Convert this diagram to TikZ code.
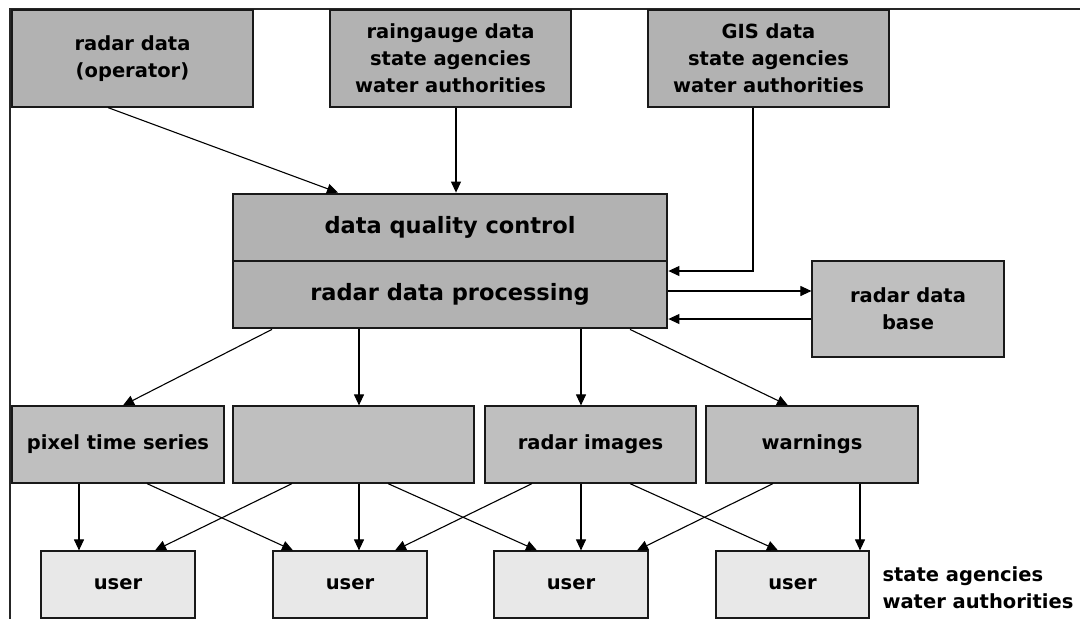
\documentclass[tikz,border=0pt]{standalone}
\usepackage{fontspec}
\setmainfont{DejaVu Sans}
\usetikzlibrary{arrows.meta}
\begin{document}
\begin{tikzpicture}[x=1pt,y=-1pt,
  lab/.style={font=\bfseries\fontsize{19.5}{27}\selectfont, align=center},
  box/.style={lab, draw=black!90, line width=1.2pt, inner sep=0pt, rectangle},
  topbox/.style={box, fill=black!30, minimum width=241pt, minimum height=97pt},
  mainbox/.style={box, fill=black!30, line width=2.8pt, minimum width=434pt, minimum height=67pt, font=\bfseries\fontsize{22.5}{27}\selectfont},
  midbox/.style={box, fill=black!25, minimum height=77pt},
  userbox/.style={box, fill=black!9, minimum width=154pt, minimum height=67pt},
  arr/.style={line width=1.1pt, -{Triangle[length=11pt,width=10pt]}},
  frame/.style={line width=1.3pt, draw=black!85}
]
\useasboundingbox (0,0) rectangle (1080,619);
\draw[frame] (10,619) coordinate (fl) -- (10,9) coordinate (ftl) -- (1080,9) coordinate (ftr);

% top row
\node[topbox] (rd) at (132.5,58.5) {radar data\\(operator)};
\node[topbox] (rg) at (450.5,58.5) {raingauge data\\state agencies\\water authorities};
\node[topbox] (gis) at (768.5,58.5) {GIS data\\state agencies\\water authorities};

% main box
\node[mainbox] (dqc) at (450,227.5) {data quality control};
\node[mainbox] (rdp) at (450,294.5) {radar data processing};

% data base
\node[box, fill=black!25, minimum width=192pt, minimum height=96pt] (db) at (908,309) {radar data\\base};

% middle row
\node[midbox, minimum width=212pt] (pix) at (118,444.5) {pixel time series};
\node[midbox, minimum width=241pt] (blank) at (353.5,444.5) {};
\node[midbox, minimum width=211pt] (rimg) at (590.5,444.5) {radar images};
\node[midbox, minimum width=212pt] (warn) at (812,444.5) {warnings};

% users
\node[userbox] (u1) at (118,584.5) {user};
\node[userbox] (u2) at (350,584.5) {user};
\node[userbox] (u3) at (571,584.5) {user};
\node[userbox, minimum width=153pt] (u4) at (792.5,584.5) {user};
\node[lab, align=left, anchor=west] (side) at (879,588) {state agencies\\water authorities};

% inputs
\draw[arr] ([xshift=-24.5pt]rd.south) -- ([xshift=-112pt]dqc.north);
\draw[arr] ([xshift=5.5pt]rg.south) -- ([xshift=6pt]dqc.north);
\draw[arr] ([xshift=-15.5pt]gis.south) |- ([yshift=23.5pt]rdp.east);
\draw[arr] ([yshift=3.5pt]rdp.east) -- ([yshift=3.5pt]rdp.east -| db.west);
\draw[arr] ([yshift=-24.5pt]rdp.east -| db.west) -- ([yshift=-24.5pt]rdp.east);

% main to middle
\draw[arr] ([xshift=-178pt]rdp.south) -- ([xshift=5pt]pix.north);
\draw[arr] ([xshift=-91pt]rdp.south) -- ([xshift=5.5pt]blank.north);
\draw[arr] ([xshift=131pt]rdp.south) -- ([xshift=-9.5pt]rimg.north);
\draw[arr] ([xshift=180pt]rdp.south) -- ([xshift=-24pt]warn.north);

% middle to users
\draw[arr] ([xshift=-39pt]pix.south) -- ([xshift=-39pt]u1.north);
\draw[arr] ([xshift=29pt]pix.south) -- ([xshift=-57pt]u2.north);
\draw[arr] ([xshift=-61.5pt]blank.south) -- ([xshift=37pt]u1.north);
\draw[arr] ([xshift=5.5pt]blank.south) -- ([xshift=9pt]u2.north);
\draw[arr] ([xshift=34.5pt]blank.south) -- ([xshift=-34pt]u3.north);
\draw[arr] ([xshift=-58.5pt]rimg.south) -- ([xshift=45pt]u2.north);
\draw[arr] ([xshift=-9.5pt]rimg.south) -- ([xshift=10pt]u3.north);
\draw[arr] ([xshift=39.5pt]rimg.south) -- ([xshift=-14.5pt]u4.north);
\draw[arr] ([xshift=-39pt]warn.south) -- ([xshift=66pt]u3.north);
\draw[arr] ([xshift=48pt]warn.south) -- ([xshift=67.5pt]u4.north);
\end{tikzpicture}
\end{document}
